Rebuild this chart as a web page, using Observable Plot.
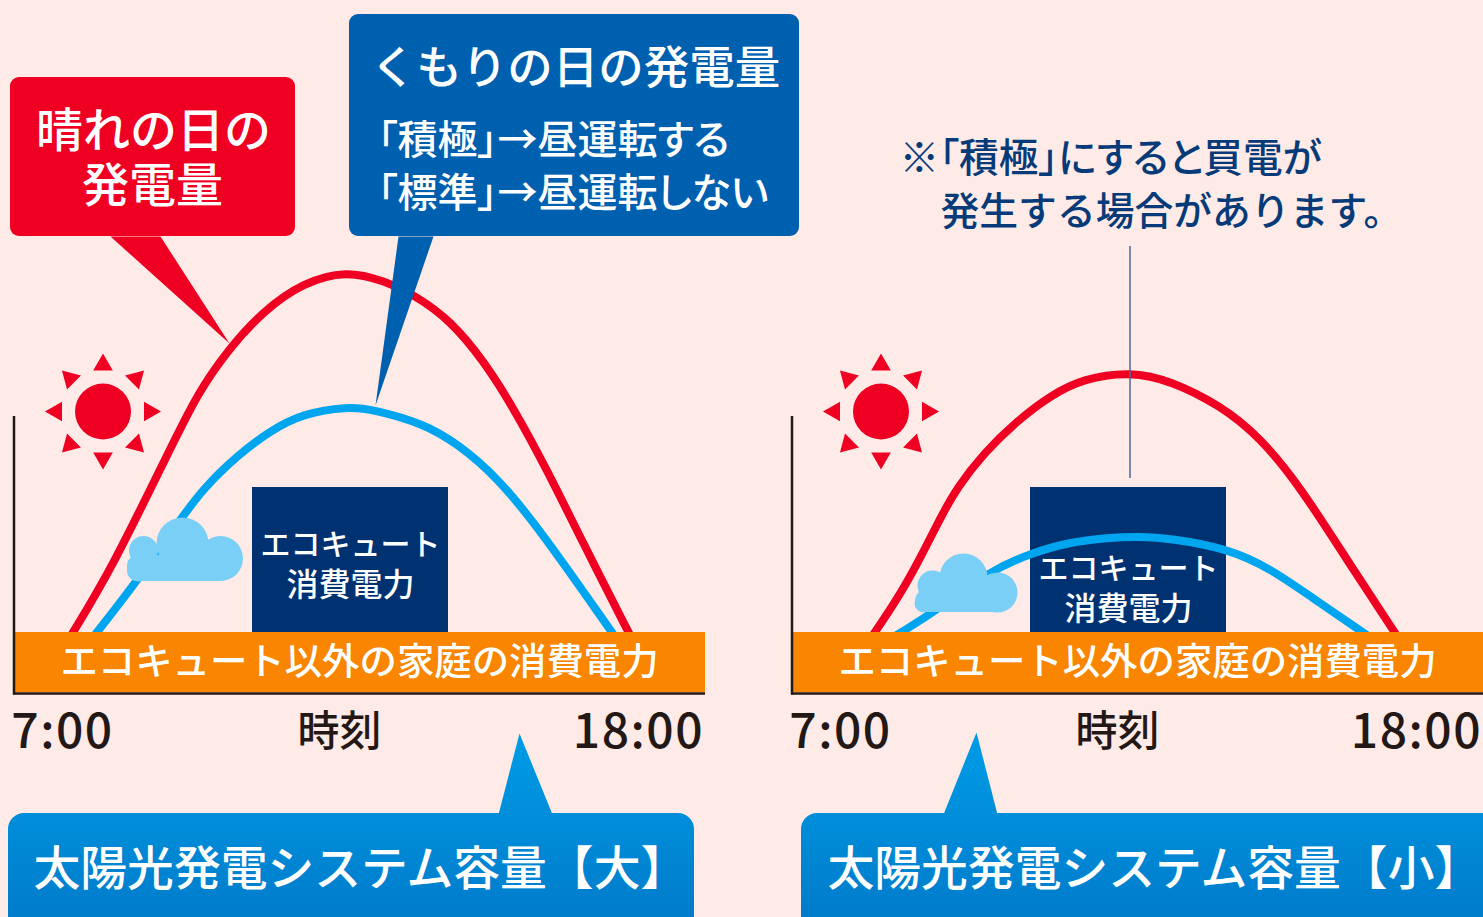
<!DOCTYPE html>
<html lang="ja"><head><meta charset="utf-8">
<script src="https://cdn.jsdelivr.net/npm/d3@7"></script>
<script src="https://cdn.jsdelivr.net/npm/@observablehq/plot@0.6"></script>
<style>html,body{margin:0;padding:0;background:#feebe7;overflow:hidden}svg{display:block}
.palt{font-feature-settings:"palt"}.tick{letter-spacing:1.5px}</style>
</head><body><div id="c"></div>
<script>
// Series: hour of day and generated power (chart units above the baseline)
const hoursSunnyLarge  = [6.77,7.21,7.92,9.06,9.58,10.15,10.84,11.60,12.42,13.13,13.74,14.41,15.04,15.61,16.26,16.89,17.79,18.04];
const powerSunnyLarge  = [24,62,123,245,300,343,383,411,423,413,398,373,333,286,223,156,63,38];
const hoursCloudyLarge = [7.31,7.67,8.43,9.25,9.69,10.34,10.97,11.6,12.44,12.94,13.89,14.54,15.31,16.13,17.47,17.75];
const powerCloudyLarge = [38,62,113,174,205,238,263,280,287,284,270,250,216,163,63,42];
const hoursSunnySmall  = [7.34,7.67,8.15,8.53,8.91,9.23,9.73,10.38,11.01,11.64,12.54,13.3,14.26,15.02,15.79,16.68,17.56,17.85];
const powerSunnySmall  = [38,62,100,136,176,206,240,273,298,315,322,313,288,256,206,133,63,40];
const hoursCloudySmall = [7.73,8.15,8.78,9.86,10.63,11.34,12.1,12.73,13.3,14.39,15.21,16.03,16.93,17.28];
const powerCloudySmall = [47,61,81,123,140,151,156,157,155,145,125,95,63,50];
const tickHours = [7,18];
const tickLabels = ["7:00","18:00"];
const panels = ["大","小"];

const RED="#ef0022", SKY="#00a5ef", NAVY="#003272", ORANGE="#f98500", CLOUD="#7acff6", BLUE="#0060b0", INK="#231815", DEEP="#063a78";
const F='"Noto Sans CJK JP","Noto Sans",sans-serif';

// Layout helpers: panel-relative picture position -> chart units
const H = px => 7 + (px-62)/52.36;
const P = py => 693 - py;

const series = (hours,power,panel,color)=>hours.map((h,i)=>({h,v:power[i],panel,color,id:panel+color}));
const curves = [
  ...series(hoursSunnyLarge,powerSunnyLarge,"大",RED),
  ...series(hoursCloudyLarge,powerCloudyLarge,"大",SKY),
  ...series(hoursSunnySmall,powerSunnySmall,"小",RED),
  ...series(hoursCloudySmall,powerCloudySmall,"小",SKY)
];
const ticks = panels.flatMap(panel=>tickHours.map((h,i)=>({h,panel,label:tickLabels[i]})));

const R=(panel,x1,y1,x2,y2,fill)=>({panel,x1:H(x1),x2:H(x2),y1:P(y1),y2:P(y2),fill});
const rectMark=(rows,rx)=>Plot.rect(rows,{x1:"x1",x2:"x2",y1:"y1",y2:"y2",fill:"fill",fx:"panel",rx});

const poly=(id,panel,fill,pts)=>pts.map(([x,y])=>({id,panel,fill,h:H(x),v:P(y)}));
const tails=[
  ...poly("a","大",RED,[[110,236],[160,236],[229,343]]),
  ...poly("b","大",BLUE,[[398,236],[433,236],[375,405]]),
  ...poly("c","大","url(#g)",[[498,814],[552,814],[519,733]]),
  ...poly("d","小","url(#g)",[[165,814],[219,814],[198,732]])
];

const suns=panels.flatMap(panel=>[0,45,90,135,180,225,270,315].map(a=>({panel,a,
  h:H(102.5+46.7*Math.sin(a*Math.PI/180)),v:P(411-46.7*Math.cos(a*Math.PI/180))})));

const puffs=[
 ["大",182,543,26],["大",143,550,14.5],["大",220,558,22.5],["大",138,570,11],
 ["小",185,577,24],["小",154,585,15],["小",219,592,20],["小",145,603,9]
].map(([panel,x,y,r])=>({panel,h:H(x),v:P(y),r}));

const T=(panel,x,y,text,size,fill,anchor="middle",palt=false)=>({panel,h:H(x),v:P(y),text,size,fill,anchor,palt});
const labels=[
 T("大",153,131,"晴れの日の",47,"#fff"),
 T("大",152,186,"発電量",47,"#fff"),
 T("大",575,69,"くもりの日の発電量",45.5,"#fff"),
 T("大",377,141,"「積極」→昼運転する",40,"#fff","start",true),
 T("大",377,194,"「標準」→昼運転しない",40,"#fff","start",true),
 ...panels.flatMap((p,i)=>[
   T(p,350,545+(i?24:0),"エコキュート",30,"#fff"),
   T(p,350,585+(i?24:0),"消費電力",32,"#fff"),
   T(p,359,663,"エコキュート以外の家庭の消費電力",37.4,"#fff"),
   T(p,339,732,"時刻",42,INK)
 ]),
 T("大",33,870,"太陽光発電システム容量【大】",46.8,"#fff","start"),
 T("小",49,870,"太陽光発電システム容量【小】",46.8,"#fff","start"),
 T("小",121,159,"※「積極」にすると買電が",39.7,DEEP,"start",true),
 T("小",162,212,"発生する場合があります。",38.8,DEEP,"start")
];

const textMark=(rows,anchor,className)=>Plot.text(rows,{x:"h",y:"v",text:"text",fx:"panel",fill:"fill",fontSize:"size",textAnchor:anchor,lineAnchor:"middle",fontFamily:F,fontWeight:500,className});

const chart=Plot.plot({
  width:1483,height:917,marginLeft:14,marginRight:0,marginTop:0,marginBottom:0,
  style:{background:"#feebe7",fontFamily:F},
  x:{domain:[H(14),H(705)],axis:null},
  y:{domain:[P(917),P(0)],axis:null},
  fx:{domain:panels,paddingInner:87/778,paddingOuter:0,axis:null},
  color:{type:"identity"},
  r:{type:"identity"},
  marks:[
    ()=>{const s=d3.create("svg:defs");const g=s.append("linearGradient").attr("id","g").attr("gradientUnits","userSpaceOnUse")
        .attr("x1",0).attr("x2",0).attr("y1",733).attr("y2",917);
        g.append("stop").attr("offset",0).attr("stop-color","#009ce6");
        g.append("stop").attr("offset",1).attr("stop-color","#007ccb");return s.node();},
    rectMark([R("大",252,487,448,632,NAVY),R("小",252,487,448,632,NAVY)],0),
    Plot.line(curves,{x:"h",y:"v",z:"id",stroke:"color",fx:"panel",strokeWidth:8,strokeOpacity:1,curve:"basis"}),
    Plot.ruleX([{panel:"小",h:H(351.5)}],{x:"h",y1:P(246),y2:P(478),fx:"panel",stroke:"#4a6a9a",strokeWidth:1.5}),
    rectMark(panels.map(p=>R(p,15,632,705,692,ORANGE)),0),
    Plot.ruleX(panels,{x:H(13.5),y1:P(416),y2:P(694.5),fx:d=>d,stroke:INK,strokeWidth:2.5}),
    Plot.ruleY(panels,{y:P(693),x1:H(13),x2:H(705),fx:d=>d,stroke:INK,strokeWidth:2.5}),
    Plot.dot(panels,{x:H(102.5),y:P(411),r:28,fill:RED,fx:d=>d}),
    Plot.dot(suns,{x:"h",y:"v",fx:"panel",r:7.3,symbol:"triangle",rotate:"a",fill:RED}),
    Plot.dot(puffs,{x:"h",y:"v",fx:"panel",r:"r",fill:CLOUD}),
    rectMark([R("大",127,555,226,581,CLOUD),R("小",137,590,226,612,CLOUD)],10),
    rectMark([R("大",10,77,295,236,RED),R("大",349,14,799,236,BLUE)],9),
    rectMark([R("大",8,813,694,935,"url(#g)"),R("小",23,813,720,935,"url(#g)")],16),
    Plot.line(tails,{x:"h",y:"v",z:"id",fill:"fill",stroke:null,fx:"panel"}),
    Plot.text(ticks,{x:"h",y:P(732),text:"label",fx:"panel",fontSize:48,fontWeight:500,fill:INK,lineAnchor:"middle",fontFamily:F,className:"tick"}),
    textMark(labels.filter(d=>d.anchor==="middle"),"middle"),
    textMark(labels.filter(d=>d.anchor==="start"&&!d.palt),"start"),
    textMark(labels.filter(d=>d.palt),"start","palt")
  ]
});
document.getElementById("c").append(chart);
</script></body></html>
